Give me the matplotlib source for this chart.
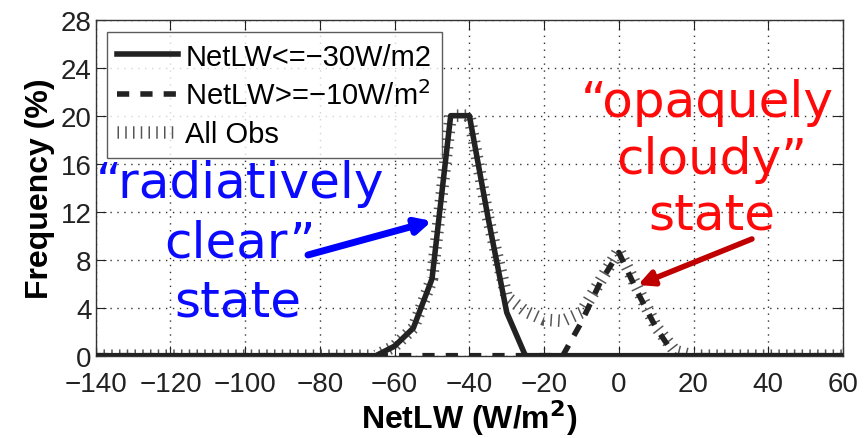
import matplotlib
matplotlib.use("Agg")
import matplotlib.pyplot as plt

# Frequency distributions of net longwave radiation (5 W/m2 bins)
netlw_bins = [-140, -135, -130, -125, -120, -115, -110, -105, -100, -95, -90, -85, -80, -75,
              -70, -65, -60, -55, -50, -45, -40, -35, -30, -25, -20, -15, -10, -5, 0, 5,
              10, 15, 20, 25, 30, 35, 40, 45, 50, 55, 60]
freq_clear = [0, 0, 0, 0, 0, 0, 0, 0, 0, 0, 0, 0, 0, 0,
              0, 0, 0.8, 2.3, 6.4, 20, 20, 11.5, 3.6, 0, 0, 0, 0, 0, 0, 0,
              0, 0, 0, 0, 0, 0, 0, 0, 0, 0, 0]
freq_cloudy = [0, 0, 0, 0, 0, 0, 0, 0, 0, 0, 0, 0, 0, 0,
               0, 0, 0, 0, 0, 0, 0, 0, 0, 0, 0, 0, 2.8, 6.1, 8.6, 5.3,
               2.3, 0, 0, 0, 0, 0, 0, 0, 0, 0, 0]
freq_all = [0, 0, 0, 0, 0, 0, 0, 0, 0, 0, 0, 0, 0, 0,
            0, 0, 0.8, 2.3, 6.4, 20, 20, 11.5, 4.9, 3.7, 3.0, 2.9, 3.6, 6.2, 8.8, 5.6,
            2.4, 0.4, 0, 0, 0, 0, 0, 0, 0, 0, 0]

x_ticks = [-140, -120, -100, -80, -60, -40, -20, 0, 20, 40, 60]
y_ticks = [0, 4, 8, 12, 16, 20, 24, 28]

plt.rcParams["font.family"] = ["Liberation Sans", "DejaVu Sans"]

fig = plt.figure(figsize=(8.64, 4.39), dpi=100)
ax = fig.add_axes([0.1108, 0.1875, 0.8649, 0.7654])

# All observations: ticked stroke
ax.plot(netlw_bins, freq_all, color="#555555", lw=9, solid_capstyle="butt",
        dash_capstyle="butt", linestyle=(0, (0.12, 0.5)), zorder=2, label="All Obs")
ax.plot(netlw_bins, freq_cloudy, color="#222222", lw=4, linestyle=(0, (2.2, 2.0)),
        dash_capstyle="butt", zorder=3, label="NetLW>=\u221210W/m$^2$")
ax.plot(netlw_bins, freq_clear, color="#222222", lw=4, zorder=4,
        label="NetLW<=\u221230W/m2")

ax.set_xlim(-140, 60)
ax.set_ylim(0, 28)
ax.set_xticks(x_ticks)
ax.set_yticks(y_ticks)
ax.set_xticklabels([("\u2212%d" % -v) if v < 0 else str(v) for v in x_ticks])
ax.grid(True, color="#333333", linestyle=(0, (1, 4)), lw=1.0)
ax.tick_params(direction="in", top=True, right=True, length=7, labelsize=20,
               colors="#222222")
ax.tick_params(axis="x", pad=11)
ax.tick_params(axis="y", pad=3)
for s in ax.spines.values():
    s.set_color("#333333")
    s.set_linewidth(1.0)

ax.set_xlabel("NetLW (W/m$^\\mathbf{2}$)", fontsize=23, fontweight="bold", labelpad=0)
ax.set_ylabel("Frequency (%)", fontsize=23, fontweight="bold", labelpad=4)

handles, labels = ax.get_legend_handles_labels()
order = [2, 1, 0]
leg = ax.legend([handles[i] for i in order], [labels[i] for i in order],
                loc="upper left", bbox_to_anchor=(0.0147, 0.962), fontsize=21,
                frameon=True, fancybox=False, handlelength=2.1, handletextpad=0.25,
                borderpad=0.35, labelspacing=0.33, borderaxespad=0.0)
leg.get_frame().set_edgecolor("#333333")
leg.get_frame().set_linewidth(1.0)

# Annotations
blue = "#0a0aff"
red = "#ff0a0a"
tf = dict(fontsize=36, family="DejaVu Sans", ha="center", va="center")
fig.text(240 / 864, 1 - 184 / 439, "\u201cradiatively", color=blue, **tf)
fig.text(240 / 864, 1 - 244 / 439, "clear\u201d", color=blue, **tf)
fig.text(238 / 864, 1 - 303 / 439, "state", color=blue, **tf)
fig.text(707 / 864, 1 - 103 / 439, "\u201copaquely", color=red, **tf)
fig.text(712 / 864, 1 - 160 / 439, "cloudy\u201d", color=red, **tf)
fig.text(712 / 864, 1 - 215 / 439, "state", color=red, **tf)

def data_from_px(px, py):
    return (-140 + (px - 95.7) / 3.737, (356.7 - py) / 12.0)

ax.annotate("", xy=data_from_px(432, 222), xytext=data_from_px(308, 256),
            arrowprops=dict(arrowstyle="-|>,head_length=0.9,head_width=0.45",
                            color="#0000ff", lw=5, shrinkA=0, shrinkB=0), zorder=6)
ax.annotate("", xy=data_from_px(638, 286), xytext=data_from_px(752, 240),
            arrowprops=dict(arrowstyle="-|>,head_length=0.9,head_width=0.45",
                            color="#c00000", lw=4, shrinkA=0, shrinkB=0), zorder=6)

fig.savefig("out.png", dpi=100)
